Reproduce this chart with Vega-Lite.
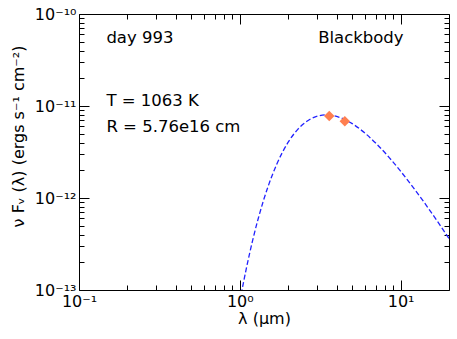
{
  "$schema": "https://vega.github.io/schema/vega-lite/v6.json",
  "autosize": "none",
  "width": 370,
  "height": 276,
  "padding": {"left": 79, "top": 14, "right": 8, "bottom": 49},
  "background": "white",
  "config": {
    "view": {"stroke": "black", "strokeWidth": 1},
    "font": "DejaVu Sans",
    "axis": {"domain": false, "grid": false, "labelFont": "DejaVu Sans", "titleFont": "DejaVu Sans", "labelColor": "black", "titleColor": "black", "tickColor": "black", "labelFontSize": 16, "titleFontSize": 16, "titleFontWeight": "normal", "labelOverlap": false, "labelBound": false, "labelFlush": false}
  },
  "datasets": {
    "curve": [
      {"lam": 1.0, "flux": 7.44e-14},
      {"lam": 1.05, "flux": 1.166e-13},
      {"lam": 1.1, "flux": 1.738e-13},
      {"lam": 1.2, "flux": 3.424e-13},
      {"lam": 1.3, "flux": 5.916e-13},
      {"lam": 1.4, "flux": 9.255e-13},
      {"lam": 1.5, "flux": 1.338e-12},
      {"lam": 1.7, "flux": 2.345e-12},
      {"lam": 2.0, "flux": 4.044e-12},
      {"lam": 2.3, "flux": 5.599e-12},
      {"lam": 2.6, "flux": 6.778e-12},
      {"lam": 3.0, "flux": 7.70e-12},
      {"lam": 3.45, "flux": 8.0e-12},
      {"lam": 4.0, "flux": 7.70e-12},
      {"lam": 5.0, "flux": 6.43e-12},
      {"lam": 6.0, "flux": 5.074e-12},
      {"lam": 7.0, "flux": 3.957e-12},
      {"lam": 8.5, "flux": 2.749e-12},
      {"lam": 10.0, "flux": 1.957e-12},
      {"lam": 12.0, "flux": 1.297e-12},
      {"lam": 14.0, "flux": 8.98e-13},
      {"lam": 17.0, "flux": 5.53e-13},
      {"lam": 20.0, "flux": 3.63e-13}
    ],
    "obs": [
      {"lam": 3.6, "flux": 7.79e-12},
      {"lam": 4.5, "flux": 6.83e-12}
    ],
    "notes": [
      {"lam": 0.148, "flux": 4.88e-11, "label": "day 993"},
      {"lam": 3.07, "flux": 4.88e-11, "label": "Blackbody"},
      {"lam": 0.148, "flux": 1.0e-11, "label": "T = 1063 K"},
      {"lam": 0.148, "flux": 5.21e-12, "label": "R = 5.76e16 cm"}
    ]
  },
  "resolve": {"axis": {"x": "independent", "y": "independent"}},
  "layer": [
    {
      "data": {"name": "curve"},
      "mark": {"type": "line", "color": "#2222ff", "strokeWidth": 1.3, "strokeDash": [5, 2.5], "clip": true, "interpolate": "monotone"},
      "encoding": {
        "x": {"field": "lam", "type": "quantitative", "scale": {"type": "log", "domain": [0.1, 20], "nice": false},
          "axis": {"orient": "bottom", "title": "λ (μm)", "titlePadding": -4,
            "values": [0.1,0.2,0.3,0.4,0.5,0.6,0.7,0.8,0.9,1,2,3,4,5,6,7,8,9,10],
            "tickSize": {"condition": {"test": "abs(log(datum.value)/LN10 - round(log(datum.value)/LN10)) < 0.01", "value": -10}, "value": -5},
            "labelPadding": 13,
            "labelExpr": "abs(datum.value-0.1)<0.001 ? '10⁻¹' : abs(datum.value-1)<0.01 ? '10⁰' : abs(datum.value-10)<0.1 ? '10¹' : ''"}},
        "y": {"field": "flux", "type": "quantitative", "scale": {"type": "log", "domain": [1e-13, 1e-10], "nice": false},
          "axis": {"orient": "left", "title": "ν Fᵥ (λ) (ergs s⁻¹ cm⁻²)", "titlePadding": 8, "titleY": 122,
            "values": [1e-13,2e-13,3e-13,4e-13,5e-13,6e-13,7e-13,8e-13,9e-13,1e-12,2e-12,3e-12,4e-12,5e-12,6e-12,7e-12,8e-12,9e-12,1e-11,2e-11,3e-11,4e-11,5e-11,6e-11,7e-11,8e-11,9e-11,1e-10],
            "tickSize": {"condition": {"test": "abs(log(datum.value)/LN10 - round(log(datum.value)/LN10)) < 0.01", "value": -10}, "value": -5},
            "labelPadding": 13,
            "labelExpr": "abs(log(datum.value)/LN10 + 10) < 0.01 ? '10⁻¹⁰' : abs(log(datum.value)/LN10 + 11) < 0.01 ? '10⁻¹¹' : abs(log(datum.value)/LN10 + 12) < 0.01 ? '10⁻¹²' : abs(log(datum.value)/LN10 + 13) < 0.01 ? '10⁻¹³' : ''"}}
      }
    },
    {
      "data": {"name": "obs"},
      "mark": {"type": "point", "shape": "diamond", "filled": true, "color": "#ff7f50", "opacity": 1, "size": 110},
      "encoding": {
        "x": {"field": "lam", "type": "quantitative", "scale": {"type": "log", "domain": [0.1, 20], "nice": false},
          "axis": {"orient": "top", "title": null, "labels": false,
            "values": [0.1,0.2,0.3,0.4,0.5,0.6,0.7,0.8,0.9,1,2,3,4,5,6,7,8,9,10],
            "tickSize": {"condition": {"test": "abs(log(datum.value)/LN10 - round(log(datum.value)/LN10)) < 0.01", "value": -10}, "value": -5}}},
        "y": {"field": "flux", "type": "quantitative", "scale": {"type": "log", "domain": [1e-13, 1e-10], "nice": false},
          "axis": {"orient": "right", "title": null, "labels": false,
            "values": [1e-13,2e-13,3e-13,4e-13,5e-13,6e-13,7e-13,8e-13,9e-13,1e-12,2e-12,3e-12,4e-12,5e-12,6e-12,7e-12,8e-12,9e-12,1e-11,2e-11,3e-11,4e-11,5e-11,6e-11,7e-11,8e-11,9e-11,1e-10],
            "tickSize": {"condition": {"test": "abs(log(datum.value)/LN10 - round(log(datum.value)/LN10)) < 0.01", "value": -10}, "value": -5}}}
      }
    },
    {
      "data": {"name": "notes"},
      "mark": {"type": "text", "align": "left", "baseline": "alphabetic", "fontSize": 16.5, "font": "DejaVu Sans", "color": "black"},
      "encoding": {
        "x": {"field": "lam", "type": "quantitative", "scale": {"type": "log", "domain": [0.1, 20], "nice": false}, "axis": null},
        "y": {"field": "flux", "type": "quantitative", "scale": {"type": "log", "domain": [1e-13, 1e-10], "nice": false}, "axis": null},
        "text": {"field": "label", "type": "nominal"}
      }
    }
  ]
}
